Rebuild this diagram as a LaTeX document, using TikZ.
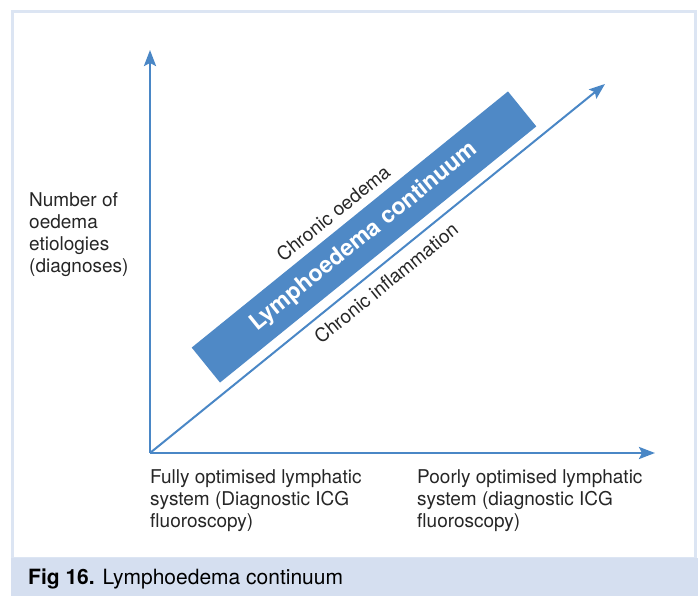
\documentclass[tikz,border=0pt]{standalone}
\usepackage{fontspec}
\setmainfont{TeX Gyre Heros}
\usepackage{tikz}
\usetikzlibrary{calc,arrows.meta}
\definecolor{axisblue}{HTML}{4A87C6}
\definecolor{bandblue}{HTML}{4F89C6}
\definecolor{frameblue}{HTML}{DCE5F3}
\definecolor{capblue}{HTML}{D5DFF0}
\def\drawaxis{\draw[axis]}
\def\labnode{\node[lab]}

\begin{document}
\begin{tikzpicture}[x=1pt,y=1pt,inner sep=0pt,
  axis/.style={color=axisblue, line width=2.6pt, -{Stealth[length=16pt,width=12pt,inset=3pt]}},
  lab/.style={font=\fontsize{19}{22}\selectfont, align=left, text=black!85},
  tilt/.style={rotate=39}]
\useasboundingbox (0,0) rectangle (698,596);

% ---------- frame and caption band
\draw[frameblue, line width=3pt] (12,37) rectangle (695,584);
\fill[capblue] (11,0) rectangle (698,38);
\node[anchor=base west, font=\fontsize{21}{24}\selectfont] (caption) at (28,11)
  {\textbf{Fig 16.} Lymphoedema continuum};

% ---------- the axes, all from the origin (O)
\coordinate (O) at (150,143);
\coordinate (ytip) at (150,546);
\coordinate (xtip) at (655,143);
\coordinate (dtip) at (605,512); % end of the diagonal
\drawaxis (O) -- (ytip);
\drawaxis (O) -- (xtip);
\drawaxis[line width=2pt] (O) -- (dtip);

% ---------- the continuum band and its two side labels
\node[tilt, fill=bandblue, minimum width=407pt, minimum height=45pt,
  text=white, font=\bfseries\fontsize{23}{26}\selectfont] (band) at (364,359)
  {Lymphoedema continuum};
\labnode[tilt] (oedema) at ($ (band.center) + (129:38) + (39:-9) $) {Chronic oedema};
\labnode[tilt] (inflam) at ($ (band.center) + (129:-49.6) + (39:-11.8) $) {Chronic inflammation};

% ---------- axis labels (base = baseline of the last line)
\labnode[anchor=base west] (numof) at (29,323)
  {Number of\\oedema\\etiologies\\(diagnoses)};
\labnode[anchor=base west] (fully) at ($ (O) + (0,-75) $)
  {Fully optimised lymphatic\\system (Diagnostic ICG\\fluoroscopy)};
\labnode[anchor=base west] (poorly) at ($ (O) + (267,-75) $)
  {Poorly optimised lymphatic\\system (diagnostic ICG\\fluoroscopy)};
\end{tikzpicture}
\end{document}
